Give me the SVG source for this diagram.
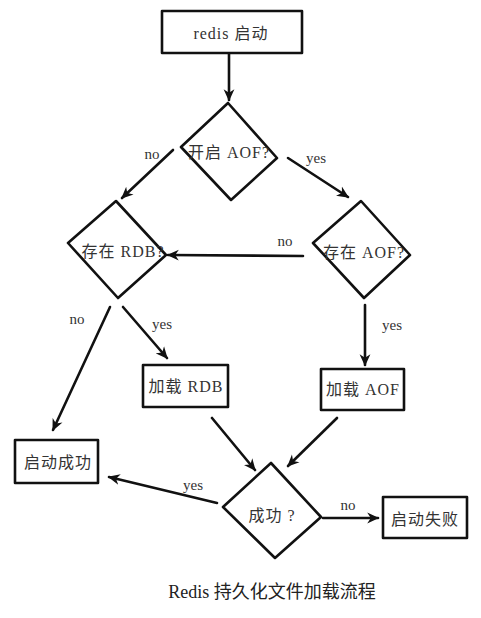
<svg xmlns="http://www.w3.org/2000/svg" width="481" height="618" viewBox="0 0 481 618">
<style>
.shape{fill:#fff;stroke:#111;stroke-width:2.6;stroke-linejoin:round}
.line{fill:none;stroke:#111;stroke-width:2.6;stroke-linecap:round}
.t{font-family:"Liberation Serif","Noto Sans CJK SC",serif;font-size:16px;fill:#333;text-anchor:middle;letter-spacing:1px}
.lbl{font-family:"Liberation Serif","Noto Sans CJK SC",serif;font-size:15px;fill:#333;text-anchor:middle}
.cap{font-family:"Liberation Serif","Noto Sans CJK SC",serif;font-size:18px;fill:#222;text-anchor:middle}
</style>
<defs>
<marker id="ah" viewBox="0 0 10 10" refX="9" refY="5" markerWidth="12" markerHeight="12" markerUnits="userSpaceOnUse" orient="auto">
<path d="M0,0.5 L10,5 L0,9.5 L3,5 z" fill="#111"/>
</marker>
</defs>
<rect width="481" height="618" fill="#fff"/>
<g id="start">
<rect class="shape" x="162" y="11" width="140" height="42"/>
<text class="t" x="231" y="39">redis 启动</text>
</g>
<g id="aofEnabled">
<polygon class="shape" points="228,103 277,158 231,200 181,147"/>
<text class="t" x="229" y="158">开启 AOF?</text>
</g>
<g id="rdbExists">
<polygon class="shape" points="116,201 166,255 118,298 68,243"/>
<text class="t" x="123" y="257">存在 RDB?</text>
</g>
<g id="aofExists">
<polygon class="shape" points="361,201 410,255 364,298 313,243"/>
<text class="t" x="364" y="258">存在 AOF?</text>
</g>
<g id="loadRdb">
<rect class="shape" x="143" y="365" width="85" height="42"/>
<text class="t" x="186" y="392">加载 RDB</text>
</g>
<g id="loadAof">
<rect class="shape" x="321" y="369" width="83" height="41"/>
<text class="t" x="363" y="395">加载 AOF</text>
</g>
<g id="startOk">
<rect class="shape" x="15" y="440" width="83" height="43"/>
<text class="t" x="58" y="468">启动成功</text>
</g>
<g id="success">
<polygon class="shape" points="271,463 321,517 275,558 223,507"/>
<text class="t" x="272" y="521">成功 ?</text>
</g>
<g id="startFail">
<rect class="shape" x="383" y="497" width="84" height="41"/>
<text class="t" x="425" y="525">启动失败</text>
</g>
<g id="connectors">
<line class="line" x1="229" y1="54" x2="229" y2="100" marker-end="url(#ah)"/>
<line class="line" x1="173" y1="150" x2="122" y2="198" marker-end="url(#ah)"/>
<line class="line" x1="288" y1="158" x2="348" y2="197" marker-end="url(#ah)"/>
<line class="line" x1="303" y1="256" x2="168" y2="255" marker-end="url(#ah)"/>
<line class="line" x1="110" y1="307" x2="53" y2="430" marker-end="url(#ah)"/>
<line class="line" x1="123" y1="307" x2="167" y2="358" marker-end="url(#ah)"/>
<line class="line" x1="365" y1="305" x2="365" y2="365" marker-end="url(#ah)"/>
<line class="line" x1="212" y1="418" x2="255" y2="470" marker-end="url(#ah)"/>
<line class="line" x1="337" y1="418" x2="288" y2="466" marker-end="url(#ah)"/>
<line class="line" x1="217" y1="503" x2="109" y2="477" marker-end="url(#ah)"/>
<line class="line" x1="323" y1="518" x2="378" y2="518" marker-end="url(#ah)"/>
</g>
<g id="labels">
<text class="lbl" x="152" y="159">no</text>
<text class="lbl" x="316" y="163">yes</text>
<text class="lbl" x="285" y="246">no</text>
<text class="lbl" x="77" y="324">no</text>
<text class="lbl" x="162" y="329">yes</text>
<text class="lbl" x="392" y="330">yes</text>
<text class="lbl" x="193" y="490">yes</text>
<text class="lbl" x="348" y="510">no</text>
</g>
<text class="cap" x="272" y="598">Redis 持久化文件加载流程</text>
</svg>
